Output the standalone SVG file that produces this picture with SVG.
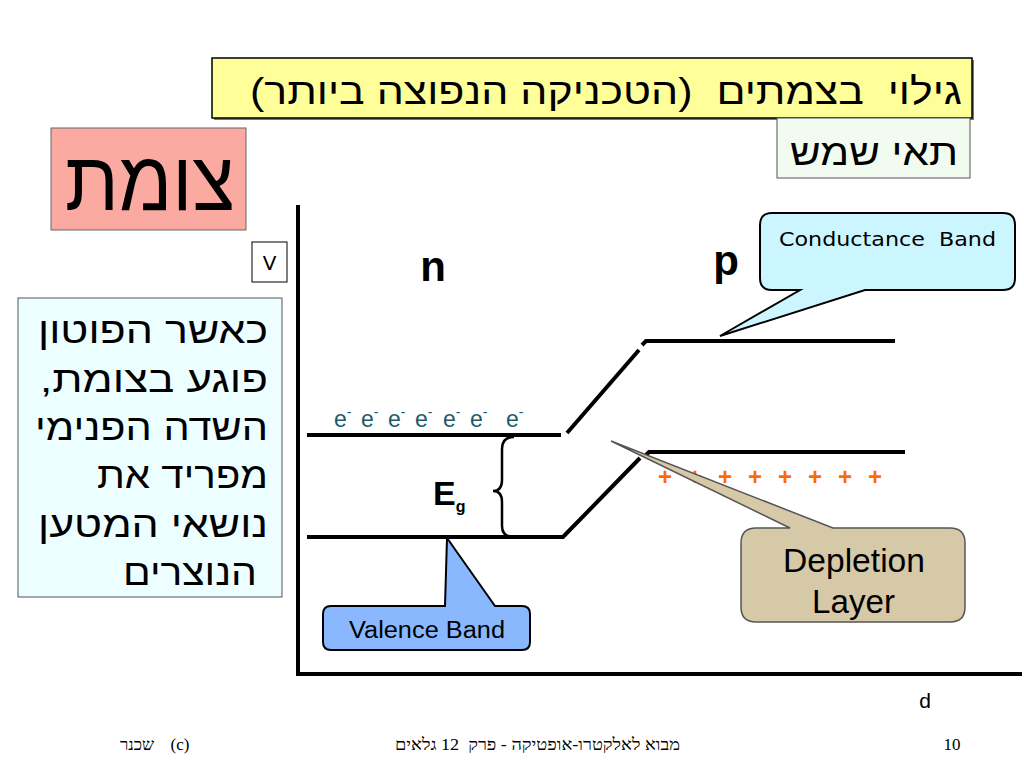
<svg xmlns="http://www.w3.org/2000/svg" width="1024" height="768" viewBox="0 0 1024 768">
<style>
.heb{font-family:"Liberation Sans","DejaVu Sans",sans-serif;fill:#000;direction:rtl;}
.lat{font-family:"Liberation Sans",Arial,sans-serif;fill:#000;}
.band{stroke:#000;stroke-width:4;fill:none;stroke-linecap:butt;}
.ax{stroke:#000;stroke-width:4;fill:none;}
.foot{font-family:"Liberation Serif","DejaVu Serif",serif;font-size:17px;fill:#000;}
.el{font-family:"Liberation Sans",Arial,sans-serif;font-size:23px;fill:#1d5a6a;}
.plus{font-family:"Liberation Sans",Arial,sans-serif;font-size:24px;font-weight:bold;fill:#ff6a00;}
</style>
<rect width="1024" height="768" fill="#fff"/>

<g id="title">
  <rect x="214" y="60" width="760" height="60" fill="#777"/>
  <rect x="212" y="58" width="760" height="60" fill="#ffff99" stroke="#000" stroke-width="1.5"/>
  <text class="heb" x="962" y="104" font-size="37" text-anchor="start" xml:space="preserve" textLength="712" lengthAdjust="spacingAndGlyphs">גילוי  בצמתים  (הטכניקה הנפוצה ביותר)</text>
</g>

<g id="solar">
  <rect x="777" y="118" width="193" height="60" fill="#f2fbf0" stroke="#555" stroke-width="1"/>
  <text class="heb" x="958" y="165" font-size="37" text-anchor="start" textLength="168" lengthAdjust="spacingAndGlyphs">תאי שמש</text>
</g>

<g id="junction">
  <rect x="51" y="128" width="195" height="102" fill="#faaaa0" stroke="#666" stroke-width="1"/>
  <text class="heb" x="235" y="210" font-size="84" text-anchor="start" textLength="170" lengthAdjust="spacingAndGlyphs">צומת</text>
</g>

<g id="vlabel">
  <rect x="252" y="242" width="35" height="40" fill="#fff" stroke="#000" stroke-width="1"/>
  <text x="269.5" y="270" font-size="20" text-anchor="middle" font-family="DejaVu Sans, sans-serif">V</text>
</g>

<g id="explain">
  <rect x="18" y="298" width="264" height="299" fill="#ecfeff" stroke="#555" stroke-width="1"/>
  <text class="heb" font-size="36" text-anchor="start" x="268" y="343" textLength="230" lengthAdjust="spacingAndGlyphs">כאשר הפוטון</text>
  <text class="heb" font-size="36" text-anchor="start" x="268" y="392" textLength="228" lengthAdjust="spacingAndGlyphs">פוגע בצומת,</text>
  <text class="heb" font-size="36" text-anchor="start" x="268" y="440" textLength="233" lengthAdjust="spacingAndGlyphs">השדה הפנימי</text>
  <text class="heb" font-size="36" text-anchor="start" x="268" y="488" textLength="171" lengthAdjust="spacingAndGlyphs">מפריד את</text>
  <text class="heb" font-size="36" text-anchor="start" x="268" y="537" textLength="230" lengthAdjust="spacingAndGlyphs">נושאי המטען</text>
  <text class="heb" font-size="36" text-anchor="start" x="257" y="585" textLength="134" lengthAdjust="spacingAndGlyphs">הנוצרים</text>
</g>

<g id="axes">
  <line class="ax" x1="298" y1="205" x2="298" y2="676"/>
  <line class="ax" x1="296" y1="674" x2="1022" y2="674"/>
  <text class="lat" x="925" y="708" font-size="21" text-anchor="middle">d</text>
</g>

<g id="labels">
  <text class="lat" x="433" y="281" font-size="42" font-weight="bold" text-anchor="middle">n</text>
  <text class="lat" x="726" y="275" font-size="42" font-weight="bold" text-anchor="middle">p</text>
  <text class="lat" x="433" y="505" font-size="34" font-weight="bold">E<tspan font-size="16" dy="7">g</tspan></text>
</g>

<g id="connectors">
  <path class="band" d="M307,435 L561,435"/>
  <path class="band" d="M567,433 L639,350"/>
  <path class="band" d="M642,345 L646,341 L895,341"/>
  <path class="band" d="M307,537 L563,537 L640,458"/>
  <path class="band" d="M646,455 L649,452 L905,452"/>
  <path d="M514,437 Q502,437 502,449 L502,480 Q502,491 493,491 Q502,491 502,502 L502,526 Q502,537 514,537" fill="none" stroke="#000" stroke-width="2.5"/>
</g>

<g id="electrons">
  <text class="el" x="334" y="427">e<tspan font-size="14" dy="-10">-</tspan></text>
  <text class="el" x="361" y="427">e<tspan font-size="14" dy="-10">-</tspan></text>
  <text class="el" x="388" y="427">e<tspan font-size="14" dy="-10">-</tspan></text>
  <text class="el" x="415" y="427">e<tspan font-size="14" dy="-10">-</tspan></text>
  <text class="el" x="443" y="427">e<tspan font-size="14" dy="-10">-</tspan></text>
  <text class="el" x="470" y="427">e<tspan font-size="14" dy="-10">-</tspan></text>
  <text class="el" x="506" y="427">e<tspan font-size="14" dy="-10">-</tspan></text>
</g>

<g id="holes">
  <text class="plus" x="665" y="485" text-anchor="middle">+</text>
  <text class="plus" x="695" y="485" text-anchor="middle">+</text>
  <text class="plus" x="725" y="485" text-anchor="middle">+</text>
  <text class="plus" x="755" y="485" text-anchor="middle">+</text>
  <text class="plus" x="785" y="485" text-anchor="middle">+</text>
  <text class="plus" x="815" y="485" text-anchor="middle">+</text>
  <text class="plus" x="845" y="485" text-anchor="middle">+</text>
  <text class="plus" x="875" y="485" text-anchor="middle">+</text>
</g>

<g id="conductance">
  <path d="M772,213 L1003,213 Q1015,213 1015,225 L1015,278 Q1015,290 1003,290 L865,290 L720,336 L800,290 L772,290 Q760,290 760,278 L760,225 Q760,213 772,213 Z" fill="#ccf6ff" stroke="#000" stroke-width="2"/>
  <text x="779" y="246" font-family="DejaVu Sans, Verdana, sans-serif" font-size="20" fill="#000" xml:space="preserve" textLength="217" lengthAdjust="spacingAndGlyphs">Conductance  Band</text>
</g>

<g id="valence">
  <path d="M331,606 L445,606 L447,538 L495,606 L522,606 Q530,606 530,614 L530,642 Q530,650 522,650 L331,650 Q323,650 323,642 L323,614 Q323,606 331,606 Z" fill="#8ab8ff" stroke="#000" stroke-width="2"/>
  <text class="lat" x="349" y="638" font-size="23" textLength="156" lengthAdjust="spacingAndGlyphs">Valence Band</text>
</g>

<g id="depletion">
  <path d="M756,528 L790,528 L611,441 L833,528 L950,528 Q965,528 965,543 L965,607 Q965,622 950,622 L756,622 Q741,622 741,607 L741,543 Q741,528 756,528 Z" fill="#d6c9a8" stroke="#555" stroke-width="1.5"/>
  <text class="lat" x="783" y="572" font-size="33" textLength="142" lengthAdjust="spacingAndGlyphs">Depletion</text>
  <text class="lat" x="812" y="613" font-size="33" textLength="83" lengthAdjust="spacingAndGlyphs">Layer</text>
</g>

<g id="footer">
  <text class="foot" x="137" y="750" text-anchor="middle">שכנר</text>
  <text class="foot" x="180" y="750" text-anchor="middle">(c)</text>
  <text class="foot" x="680" y="750" text-anchor="start" direction="rtl" xml:space="preserve" textLength="285" lengthAdjust="spacingAndGlyphs">מבוא לאלקטרו-אופטיקה - פרק  12 גלאים</text>
  <text class="foot" x="952" y="750" text-anchor="middle">10</text>
</g>
</svg>
